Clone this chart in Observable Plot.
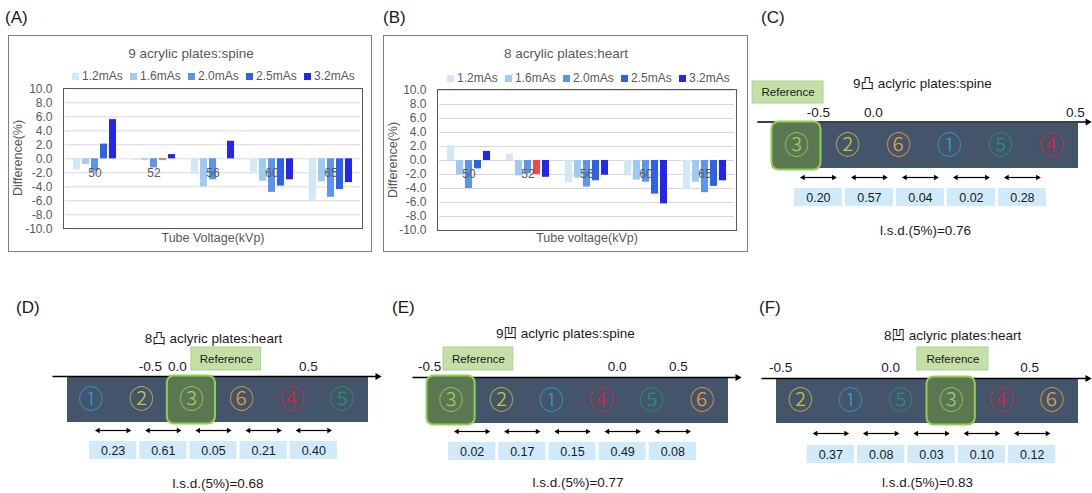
<!DOCTYPE html>
<html><head><meta charset="utf-8">
<script src="https://cdn.jsdelivr.net/npm/d3@7"></script>
<script src="https://cdn.jsdelivr.net/npm/@observablehq/plot@0.6"></script>
<style>
body{margin:0;background:#fff;}
#root{position:relative;width:1092px;height:493px;overflow:hidden;font-family:"Liberation Sans",Arial,"Noto Sans CJK JP",sans-serif;}
.abs{position:absolute;white-space:nowrap;}
.ctr{transform:translate(-50%,-50%);}
.lab{transform:translate(0,-50%);font-size:17px;color:#1a1a1a;}
.chart-title{font-size:13.5px;color:#595959;}
.axis-title{font-size:12.5px;color:#595959;}
.rot{transform:translate(-50%,-50%) rotate(-90deg);}
.box{border:1px solid #808080;box-sizing:border-box;}
.pa{border:1.4px solid #595959;box-sizing:border-box;pointer-events:none;}
.legend{display:flex;font-size:12px;color:#595959;transform:translate(0,-50%);}
.legend .item{display:inline-flex;align-items:center;width:58px;}
.legend i{display:inline-block;width:7px;height:7px;margin-right:3px;}
svg{overflow:visible;}
</style></head><body><div id="root"></div>
<script>
// ---------- data: bar charts (A, B) ----------
const kvpLabels = ["50", "52", "56", "60", "65"];
const mAsLabels = ["1.2mAs", "1.6mAs", "2.0mAs", "2.5mAs", "3.2mAs"];
const barColors = ["#cfe9f9", "#9ecbf4", "#5c95ee", "#2d62ef", "#2525ee"];
const refColor = "#ef4a4a";
const refCondition = ["52", "2.5mAs"];
const yTickValues = [-10, -8, -6, -4, -2, 0, 2, 4, 6, 8, 10];

// 9 acrylic plates: spine  (values per kVp 50,52,56,60,65)
const spine12 = [-1.6, -0.2, -2.2, -2.0, -5.9];
const spine16 = [-0.8, -0.2, -4.0, -3.2, -3.3];
const spine20 = [-1.8, -1.3, -3.0, -4.8, -5.5];
const spine25 = [2.1, -0.2, 0.0, -3.9, -4.4];
const spine32 = [5.6, 0.6, 2.5, -3.0, -3.4];

// 8 acrylic plates: heart
const heart12 = [2.1, 0.9, -3.2, -2.0, -4.1];
const heart16 = [-2.0, -2.2, -2.5, -2.8, -3.1];
const heart20 = [-4.0, -1.9, -3.8, -3.1, -4.6];
const heart25 = [-1.2, -2.0, -2.9, -4.8, -3.7];
const heart32 = [1.3, -2.4, -2.1, -6.2, -2.9];

// ---------- data: ranking schematics (C-F) ----------
const circledGlyphs = ["①", "②", "③", "④", "⑤", "⑥"];
const itemColors = ["#2a9fd6", "#c9c23a", "#9ccc65", "#d8243a", "#1e9a66", "#e2a33a"];
const referenceItem = 3;
const tickLabels = ["-0.5", "0.0", "0.5"];

const orderC = [3, 2, 6, 1, 5, 4];
const gapsC = [0.20, 0.57, 0.04, 0.02, 0.28];
const lsdC = "0.76";
const tickSlotsC = [0.9, 1.98, 5.94];

const orderD = [1, 2, 3, 6, 4, 5];
const gapsD = [0.23, 0.61, 0.05, 0.21, 0.40];
const lsdD = "0.68";
const tickSlotsD = [1.65, 2.19, 4.8];

const orderE = [3, 2, 1, 4, 5, 6];
const gapsE = [0.02, 0.17, 0.15, 0.49, 0.08];
const lsdE = "0.77";
const tickSlotsE = [0.04, 3.78, 5.0];

const orderF = [2, 1, 5, 3, 4, 6];
const gapsF = [0.37, 0.08, 0.03, 0.10, 0.12];
const lsdF = "0.83";
const tickSlotsF = [0.08, 2.27, 5.03];

// ---------- helpers ----------
const root = document.getElementById("root");
function place(el, left, top, w, h) {
  el.style.position = "absolute"; el.style.left = left + "px"; el.style.top = top + "px";
  if (w != null) el.style.width = w + "px";
  if (h != null) el.style.height = h + "px";
  root.appendChild(el); return el;
}
function label(text, cls, left, top) {
  const d = document.createElement("div"); d.className = "abs " + cls; d.textContent = text;
  return place(d, left, top);
}
function divBox(cls, left, top, w, h) {
  const d = document.createElement("div"); d.className = cls; return place(d, left, top, w, h);
}
function legend(left, top) {
  const d = document.createElement("div"); d.className = "abs legend";
  mAsLabels.forEach((s, i) => {
    const it = document.createElement("span"); it.className = "item";
    const sw = document.createElement("i"); sw.style.background = barColors[i];
    it.appendChild(sw); it.appendChild(document.createTextNode(s)); d.appendChild(it);
  });
  return place(d, left, top);
}
function toRows(arrays) {
  return mAsLabels.flatMap((s, j) => kvpLabels.map((k, i) => ({kvp: k, mAs: s, value: arrays[j][i]})));
}

function barChart(rows, o) {
  const svg = Plot.plot({
    width: o.w, height: o.h,
    marginLeft: o.ml, marginRight: o.mr, marginTop: o.mt, marginBottom: o.mb,
    style: {background: "transparent", fontFamily: "Liberation Sans, Arial, sans-serif", fontSize: "12px", color: "#595959", overflow: "visible"},
    fx: {domain: kvpLabels, axis: null, padding: 0},
    x: {domain: mAsLabels, axis: null, paddingInner: 0.2, paddingOuter: 0.84},
    y: {domain: [-10, 10], ticks: 10, tickFormat: d => d.toFixed(1), tickSize: 0, tickPadding: 13, label: null},
    color: {domain: [...mAsLabels, "reference"], range: [...barColors, refColor]},
    marks: [
      Plot.ruleY(yTickValues, {stroke: "#d9d9d9", strokeWidth: 1}),
      Plot.barY(rows, {
        fx: "kvp", x: "mAs", y: "value",
        fill: d => (d.kvp === refCondition[0] && d.mAs === refCondition[1]) ? "reference" : d.mAs
      }),
      Plot.text(kvpLabels, {fx: d => d, y: 0, dy: 14, text: d => d, fontSize: 12, fill: "#595959"})
    ]
  });
  place(svg, o.left, o.top);
}

// ---------- panel A ----------
label("(A)", "lab", 5, 18);
divBox("box", 8, 35, 364, 217);
label("9 acrylic plates:spine", "ctr chart-title", 191, 53);
legend(72, 76);
barChart(toRows([spine12, spine16, spine20, spine25, spine32]),
  {left: 8, top: 35, w: 364, h: 217, ml: 55, mr: 10, mt: 53.3, mb: 23.7});
divBox("pa", 62.5, 87.6, 300, 141.4);
label("Difference(%)", "rot axis-title", 18, 158);
label("Tube Voltage(kVp)", "ctr axis-title", 213, 238);

// ---------- panel B ----------
label("(B)", "lab", 383, 18);
divBox("box", 383, 35, 365, 217);
label("8 acrylic plates:heart", "ctr chart-title", 566, 53);
legend(447, 78);
barChart(toRows([heart12, heart16, heart20, heart25, heart32]),
  {left: 383, top: 35, w: 365, h: 217, ml: 54, mr: 12, mt: 55, mb: 22});
divBox("pa", 436.5, 89.3, 300, 141.4);
label("Difference(%)", "rot axis-title", 393, 160);
label("Tube voltage(kVp)", "ctr axis-title", 587, 238);

// ---------- schematic panels ----------
function schematic(p) {
  const n = p.order.length;
  const refIdx = p.order.indexOf(referenceItem);
  const ctr = i => i + 1 + p.boxOffset;
  const mid = (p.rectY[0] + p.rectY[1]) / 2;
  const txt = {fontFamily: "Liberation Sans, Arial, Noto Sans CJK JP, sans-serif", fill: "#1a1a1a"};
  const half = 0.37, head = 0.07;
  const svg = Plot.plot({
    width: p.w, height: p.h, margin: 0,
    style: {background: "transparent", overflow: "visible"},
    x: {domain: [0, n], range: [p.rectX[0] - p.left, p.rectX[1] - p.left], axis: null},
    y: {domain: [p.top, p.top + p.h], range: [0, p.h], axis: null},
    marks: [
      Plot.text([p.title], {x: p.titleSlot, y: p.titleY, text: d => d, fontSize: 13.5, ...txt}),
      Plot.rect([referenceItem], {x1: p.refSlots[0], x2: p.refSlots[1], y1: p.refY[0], y2: p.refY[1], fill: "#c5e0a6", stroke: "#a9d18e", strokeWidth: 1}),
      Plot.text(["Reference"], {x: (p.refSlots[0] + p.refSlots[1]) / 2, y: (p.refY[0] + p.refY[1]) / 2, text: d => d, fontSize: 11.5, ...txt}),
      Plot.text(tickLabels, {x: (d, i) => p.tickSlots[i], y: p.tickY, text: d => d, fontSize: 13.5, ...txt}),
      Plot.rect([p], {x1: 0, x2: n, y1: p.rectY[0], y2: p.rectY[1], fill: "#44546a"}),
      Plot.link([p], {x1: -0.3, x2: n + 0.15, y1: p.axisY, y2: p.axisY, stroke: "#000", strokeWidth: 1.6}),
      Plot.dot([p], {x: n + 0.18, y: p.axisY, symbol: "triangle2", r: 3.4, rotate: 90, fill: "#000"}),
      Plot.rect([referenceItem], {x1: refIdx - 0.01, x2: refIdx + 0.95, y1: p.rectY[0] - 1.5, y2: p.rectY[1] + 1.5, rx: 7, fill: "#5a7752", stroke: "#92d050", strokeWidth: 2}),
      Plot.text(p.order, {x: (d, i) => i + 0.47, y: mid, text: d => circledGlyphs[d - 1], fill: d => itemColors[d - 1], fontSize: 25, fontWeight: 300, fontFamily: "Noto Sans CJK JP, DejaVu Sans, sans-serif"}),
      Plot.link(p.gaps, {x1: (d, i) => ctr(i) - half + head, x2: (d, i) => ctr(i) + half - head, y1: p.arrowY, y2: p.arrowY, stroke: "#000", strokeWidth: 1.2}),
      Plot.dot(p.gaps, {x: (d, i) => ctr(i) - half + head, y: p.arrowY, symbol: "triangle2", r: 2.6, rotate: -90, fill: "#000"}),
      Plot.dot(p.gaps, {x: (d, i) => ctr(i) + half - head, y: p.arrowY, symbol: "triangle2", r: 2.6, rotate: 90, fill: "#000"}),
      Plot.rect(p.gaps, {x1: (d, i) => ctr(i) - 0.47, x2: (d, i) => ctr(i) + 0.47, y1: p.boxY[0], y2: p.boxY[1], fill: "#d0eaf9"}),
      Plot.text(p.gaps, {x: (d, i) => ctr(i), y: (p.boxY[0] + p.boxY[1]) / 2, text: d => d.toFixed(2), fontSize: 12.5, ...txt}),
      Plot.text([p.lsd], {x: n / 2, y: p.lsdY, text: d => `l.s.d.(5%)=${d}`, fontSize: 13.5, ...txt})
    ]
  });
  place(svg, p.left, p.top);
  label(p.label, "lab", p.labelX, p.labelY);
}

schematic({label: "(C)", labelX: 761, labelY: 18, title: "9凸 aclyric plates:spine",
  order: orderC, gaps: gapsC, lsd: lsdC, tickSlots: tickSlotsC,
  left: 750, top: 60, w: 342, h: 190, rectX: [772, 1078], rectY: [123, 168], axisY: 121.5,
  tickY: 112, titleY: 83, titleSlot: 2.94, refSlots: [-0.39, 1.0], refY: [81, 103],
  arrowY: 177, boxY: [188, 206], lsdY: 230, boxOffset: -0.1});

schematic({label: "(D)", labelX: 16, labelY: 308, title: "8凸 aclyric plates:heart",
  order: orderD, gaps: gapsD, lsd: lsdD, tickSlots: tickSlotsD,
  left: 0, top: 320, w: 385, h: 173, rectX: [67, 368], rectY: [377, 422], axisY: 376,
  tickY: 366, titleY: 338, titleSlot: 2.91, refSlots: [2.47, 3.86], refY: [347, 370],
  arrowY: 430, boxY: [441, 459], lsdY: 483, boxOffset: -0.09});

schematic({label: "(E)", labelX: 392, labelY: 308, title: "9凹 aclyric plates:spine",
  order: orderE, gaps: gapsE, lsd: lsdE, tickSlots: tickSlotsE,
  left: 385, top: 320, w: 370, h: 173, rectX: [427, 728], rectY: [377, 423], axisY: 377,
  tickY: 366, titleY: 333, titleSlot: 2.75, refSlots: [0.32, 1.71], refY: [347, 370],
  arrowY: 431, boxY: [442, 460], lsdY: 482, boxOffset: -0.11});

schematic({label: "(F)", labelX: 759, labelY: 308, title: "8凹 aclyric plates:heart",
  order: orderF, gaps: gapsF, lsd: lsdF, tickSlots: tickSlotsF,
  left: 755, top: 320, w: 337, h: 173, rectX: [776, 1078], rectY: [378, 423], axisY: 378,
  tickY: 367, titleY: 335, titleSlot: 3.5, refSlots: [2.8, 4.21], refY: [347, 370],
  arrowY: 433, boxY: [445, 463], lsdY: 482, boxOffset: 0.08});
</script></body></html>
